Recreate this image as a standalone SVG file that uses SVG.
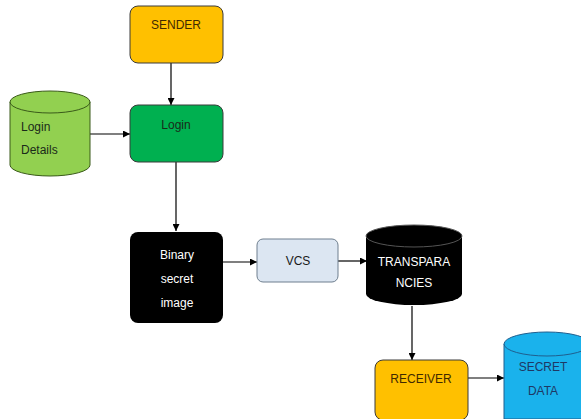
<svg xmlns="http://www.w3.org/2000/svg" width="581" height="419" viewBox="0 0 581 419">
<defs>
<marker id="ah" viewBox="0 0 10 10" refX="10" refY="5" markerWidth="7" markerHeight="7" orient="auto" markerUnits="userSpaceOnUse"><path d="M0,0 L10,5 L0,10 z" fill="#000"/></marker>
<style>
.t{font-family:"Liberation Sans",Arial,sans-serif;font-size:12px;text-anchor:middle}
.c{stroke:#000;stroke-width:1.2;fill:none;marker-end:url(#ah)}
.box{stroke:#3a3a3a;stroke-width:1}
</style>
</defs>
<rect width="581" height="419" fill="#fff"/>
<g id="connectors">
<line class="c" x1="171" y1="63" x2="171" y2="105"/>
<line class="c" x1="90" y1="134" x2="130" y2="134"/>
<line class="c" x1="176" y1="162" x2="176" y2="231"/>
<line class="c" x1="223" y1="262" x2="257" y2="262"/>
<line class="c" x1="338" y1="261" x2="367" y2="261"/>
<line class="c" x1="412" y1="306" x2="412" y2="360"/>
<line class="c" x1="468" y1="378" x2="504" y2="378"/>
</g>
<g id="sender">
<rect class="box" x="130" y="6" width="93" height="57" rx="8" fill="#FFC000" stroke="#7f6000"/>
<text class="t" x="176" y="29" fill="#3f2a00">SENDER</text>
</g>
<g id="login">
<rect class="box" x="130" y="105" width="93" height="57" rx="8" fill="#00B050" stroke="#215a2c"/>
<text class="t" x="176" y="129" fill="#1a2a1a">Login</text>
</g>
<g id="login-details">
<path d="M10,102 L10,165 A40,11 0 0 0 90,165 L90,102 Z" fill="#92D050" stroke="#3a5a1a"/>
<ellipse cx="50" cy="102" rx="40" ry="11" fill="#92D050" stroke="#3a5a1a"/>
<text class="t" x="21" y="131" fill="#1a2a1a" style="text-anchor:start">Login</text>
<text class="t" x="21" y="154" fill="#1a2a1a" style="text-anchor:start">Details</text>
</g>
<g id="binary">
<rect x="130" y="232" width="93" height="91" rx="8" fill="#000"/>
<text class="t" x="177" y="259" fill="#fff">Binary</text>
<text class="t" x="177" y="283" fill="#fff">secret</text>
<text class="t" x="177" y="307" fill="#fff">image</text>
</g>
<g id="vcs">
<rect x="257" y="239" width="81" height="43" rx="6" fill="#DCE6F2" stroke="#6f7f8f"/>
<text class="t" x="298" y="265" fill="#1a1a1a">VCS</text>
</g>
<g id="transparancies">
<path d="M366,236 L366,294 A48,11 0 0 0 462,294 L462,236 Z" fill="#000"/>
<ellipse cx="414" cy="236" rx="48" ry="11" fill="#000" stroke="#555"/>
<text class="t" x="414" y="266" fill="#fff">TRANSPARA</text>
<text class="t" x="414" y="287" fill="#fff">NCIES</text>
</g>
<g id="receiver">
<rect class="box" x="375" y="360" width="93" height="60" rx="8" fill="#FFC000" stroke="#7f6000"/>
<text class="t" x="421" y="383" fill="#3f2a00">RECEIVER</text>
</g>
<g id="secret-data">
<path d="M504,344 L504,419 L590,419 L590,344 Z" fill="#1AB2EC" stroke="#1f5f8f"/>
<ellipse cx="547" cy="344" rx="43" ry="12" fill="#1AB2EC" stroke="#1f5f8f"/>
<text class="t" x="543" y="371" fill="#1f3864">SECRET</text>
<text class="t" x="543" y="395" fill="#1f3864">DATA</text>
</g>
</svg>
